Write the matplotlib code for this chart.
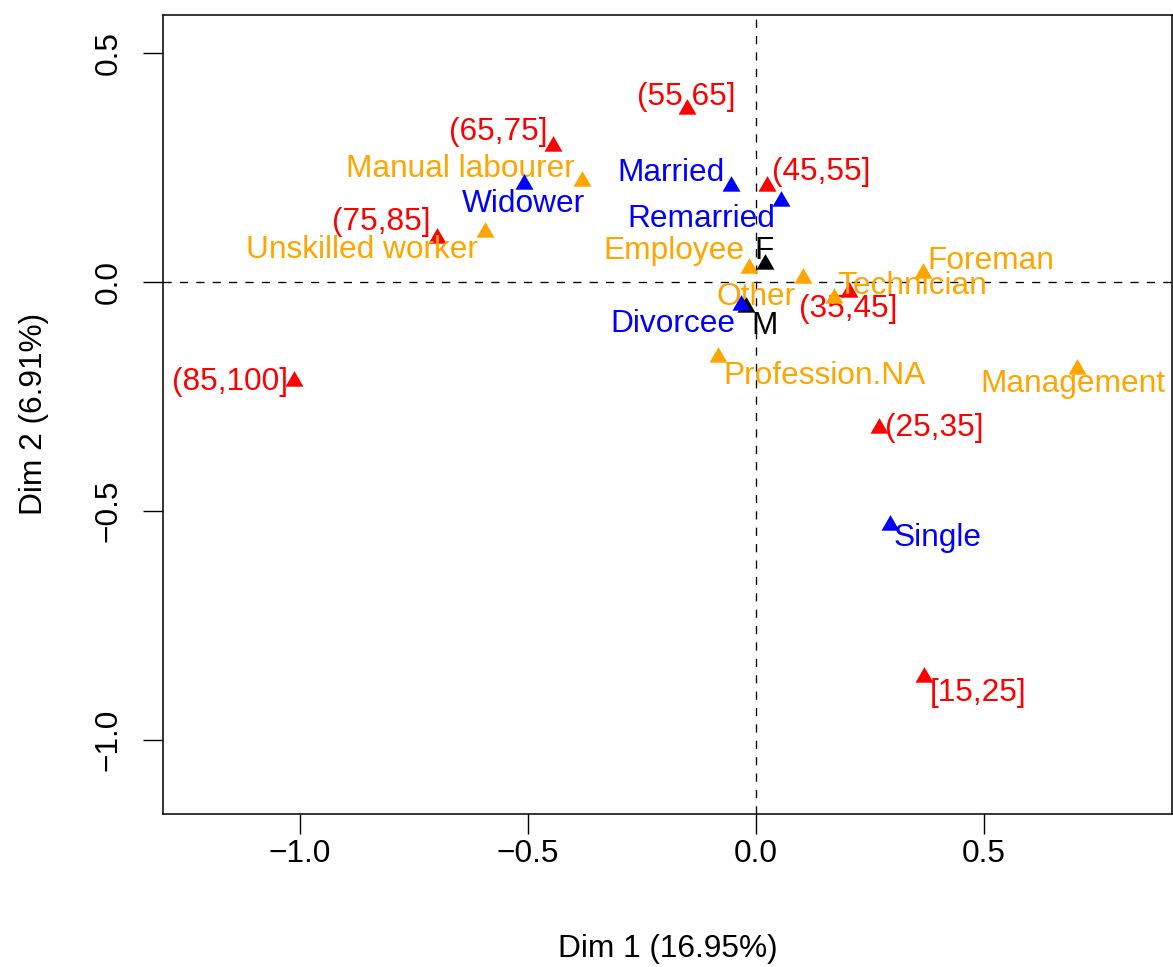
import matplotlib
matplotlib.use('Agg')
import matplotlib.pyplot as plt
from matplotlib.path import Path

plt.rcParams['font.family'] = ['Liberation Sans', 'DejaVu Sans']
plt.rcParams['lines.scale_dashes'] = False

# ---- data (MCA category coordinates) ----
age_labels = ['[15,25]', '(25,35]', '(35,45]', '(45,55]', '(55,65]', '(65,75]', '(75,85]', '(85,100]']
age_dim1 = [0.368, 0.270, 0.203, 0.023, -0.151, -0.446, -0.700, -1.013]
age_dim2 = [-0.863, -0.318, -0.021, 0.209, 0.379, 0.298, 0.097, -0.215]

prof_labels = ['Manual labourer', 'Unskilled worker', 'Employee', 'Other', 'Technician',
               'Foreman', 'Profession.NA', 'Management']
prof_dim1 = [-0.382, -0.594, -0.015, 0.102, 0.170, 0.367, -0.084, 0.703]
prof_dim2 = [0.220, 0.110, 0.030, 0.010, -0.034, 0.019, -0.163, -0.189]

sex_labels = ['F', 'M']
sex_dim1 = [0.020, -0.021]
sex_dim2 = [0.040, -0.054]

marital_labels = ['Married', 'Remarried', 'Widower', 'Divorcee', 'Single']
marital_dim1 = [-0.054, 0.055, -0.509, -0.032, 0.293]
marital_dim2 = [0.211, 0.178, 0.215, -0.051, -0.530]

xlabel = 'Dim 1 (16.95%)'
ylabel = 'Dim 2 (6.91%)'
xticks = [-1.0, -0.5, 0.0, 0.5]
yticks = [-1.0, -0.5, 0.0, 0.5]
xtick_labels = ['\u22121.0', '\u22120.5', '0.0', '0.5']
ytick_labels = ['\u22121.0', '\u22120.5', '0.0', '0.5']

# ---- label placement (pixel offsets from the point, baseline) ----
age_off = [(54.5, -24.2), (55, -8.2), (0, -25.2), (54.5, 6.8), (-1, 3.8), (-54.5, 5.8),
           (-55.5, 7.8), (-64, -9.2)]
prof_off = [(-121, 4.8), (-123, -26.2), (-75, 9.8), (-46, -27.2), (78.5, 3.8), (67.5, 4.8),
            (107, -27.2), (-4, -23.2)]
sex_off = [(-1.5, 4.8), (18, -27.2)]
marital_off = [(-60.5, 4.8), (-79.5, -26.2), (0, -28.2), (-69, -26.2), (48, -21.2)]

W, H = 1173, 967
fig = plt.figure(figsize=(W / 100, H / 100), dpi=100)
L, R, T, B = 163.3, 1172.3, 15.0, 813.7
ax = fig.add_axes([L / W, 1 - B / H, (R - L) / W, (B - T) / H])
ax.set_xlim(-1.2998, 0.9129)
ax.set_ylim(-1.1615, 0.5837)

# equilateral triangle marker, centred on its centroid (like R pch 17)
tri = Path([(0, 1.555), (-1.347, -0.778), (1.347, -0.778), (0, 1.555)],
           [Path.MOVETO, Path.LINETO, Path.LINETO, Path.CLOSEPOLY])

FS = 22.8
ax.axhline(0, color='black', lw=0.95, dashes=(5.9, 5.9), zorder=1)
ax.axvline(0, color='black', lw=0.95, dashes=(5.9, 5.9), zorder=1)

groups = [
    (age_labels, age_dim1, age_dim2, age_off, '#FF0000'),
    (prof_labels, prof_dim1, prof_dim2, prof_off, '#FFA500'),
    (sex_labels, sex_dim1, sex_dim2, sex_off, '#000000'),
    (marital_labels, marital_dim1, marital_dim2, marital_off, '#0000FF'),
]
z = 2
for labs, xs, ys, offs, col in groups:
    ax.plot(xs, ys, linestyle='none', marker=tri, markersize=14.96, color=col,
            markeredgewidth=0, zorder=z)
    for lab, x, y, (dx, dy) in zip(labs, xs, ys, offs):
        ax.annotate(lab, (x, y), xytext=(dx, dy), textcoords='offset pixels',
                    ha='center', va='baseline', fontsize=FS, color=col, zorder=z + 1)
    z += 2

for sp in ax.spines.values():
    sp.set_linewidth(1.1)
ax.set_xticks(xticks)
ax.set_xticklabels(xtick_labels)
ax.set_yticks(yticks)
ax.set_yticklabels(ytick_labels)
ax.tick_params(axis='both', direction='out', length=14.4, width=1.0, labelsize=FS)
ax.tick_params(axis='x', pad=20.2)
ax.tick_params(axis='y', pad=19.4)
for t in ax.get_xticklabels():
    t.set_va('baseline')
for t in ax.get_yticklabels():
    t.set_rotation(90)
    t.set_rotation_mode('anchor')
    t.set_ha('center')
    t.set_va('baseline')

fig.text((L + R) / 2 / W, 1 - 957 / H, xlabel, ha='center', va='baseline', fontsize=FS)
fig.text(42.5 / W, 1 - (T + B) / 2 / H, ylabel, ha='center', va='baseline', fontsize=FS,
         rotation=90, rotation_mode='anchor')

fig.savefig('out.png', dpi=100)
